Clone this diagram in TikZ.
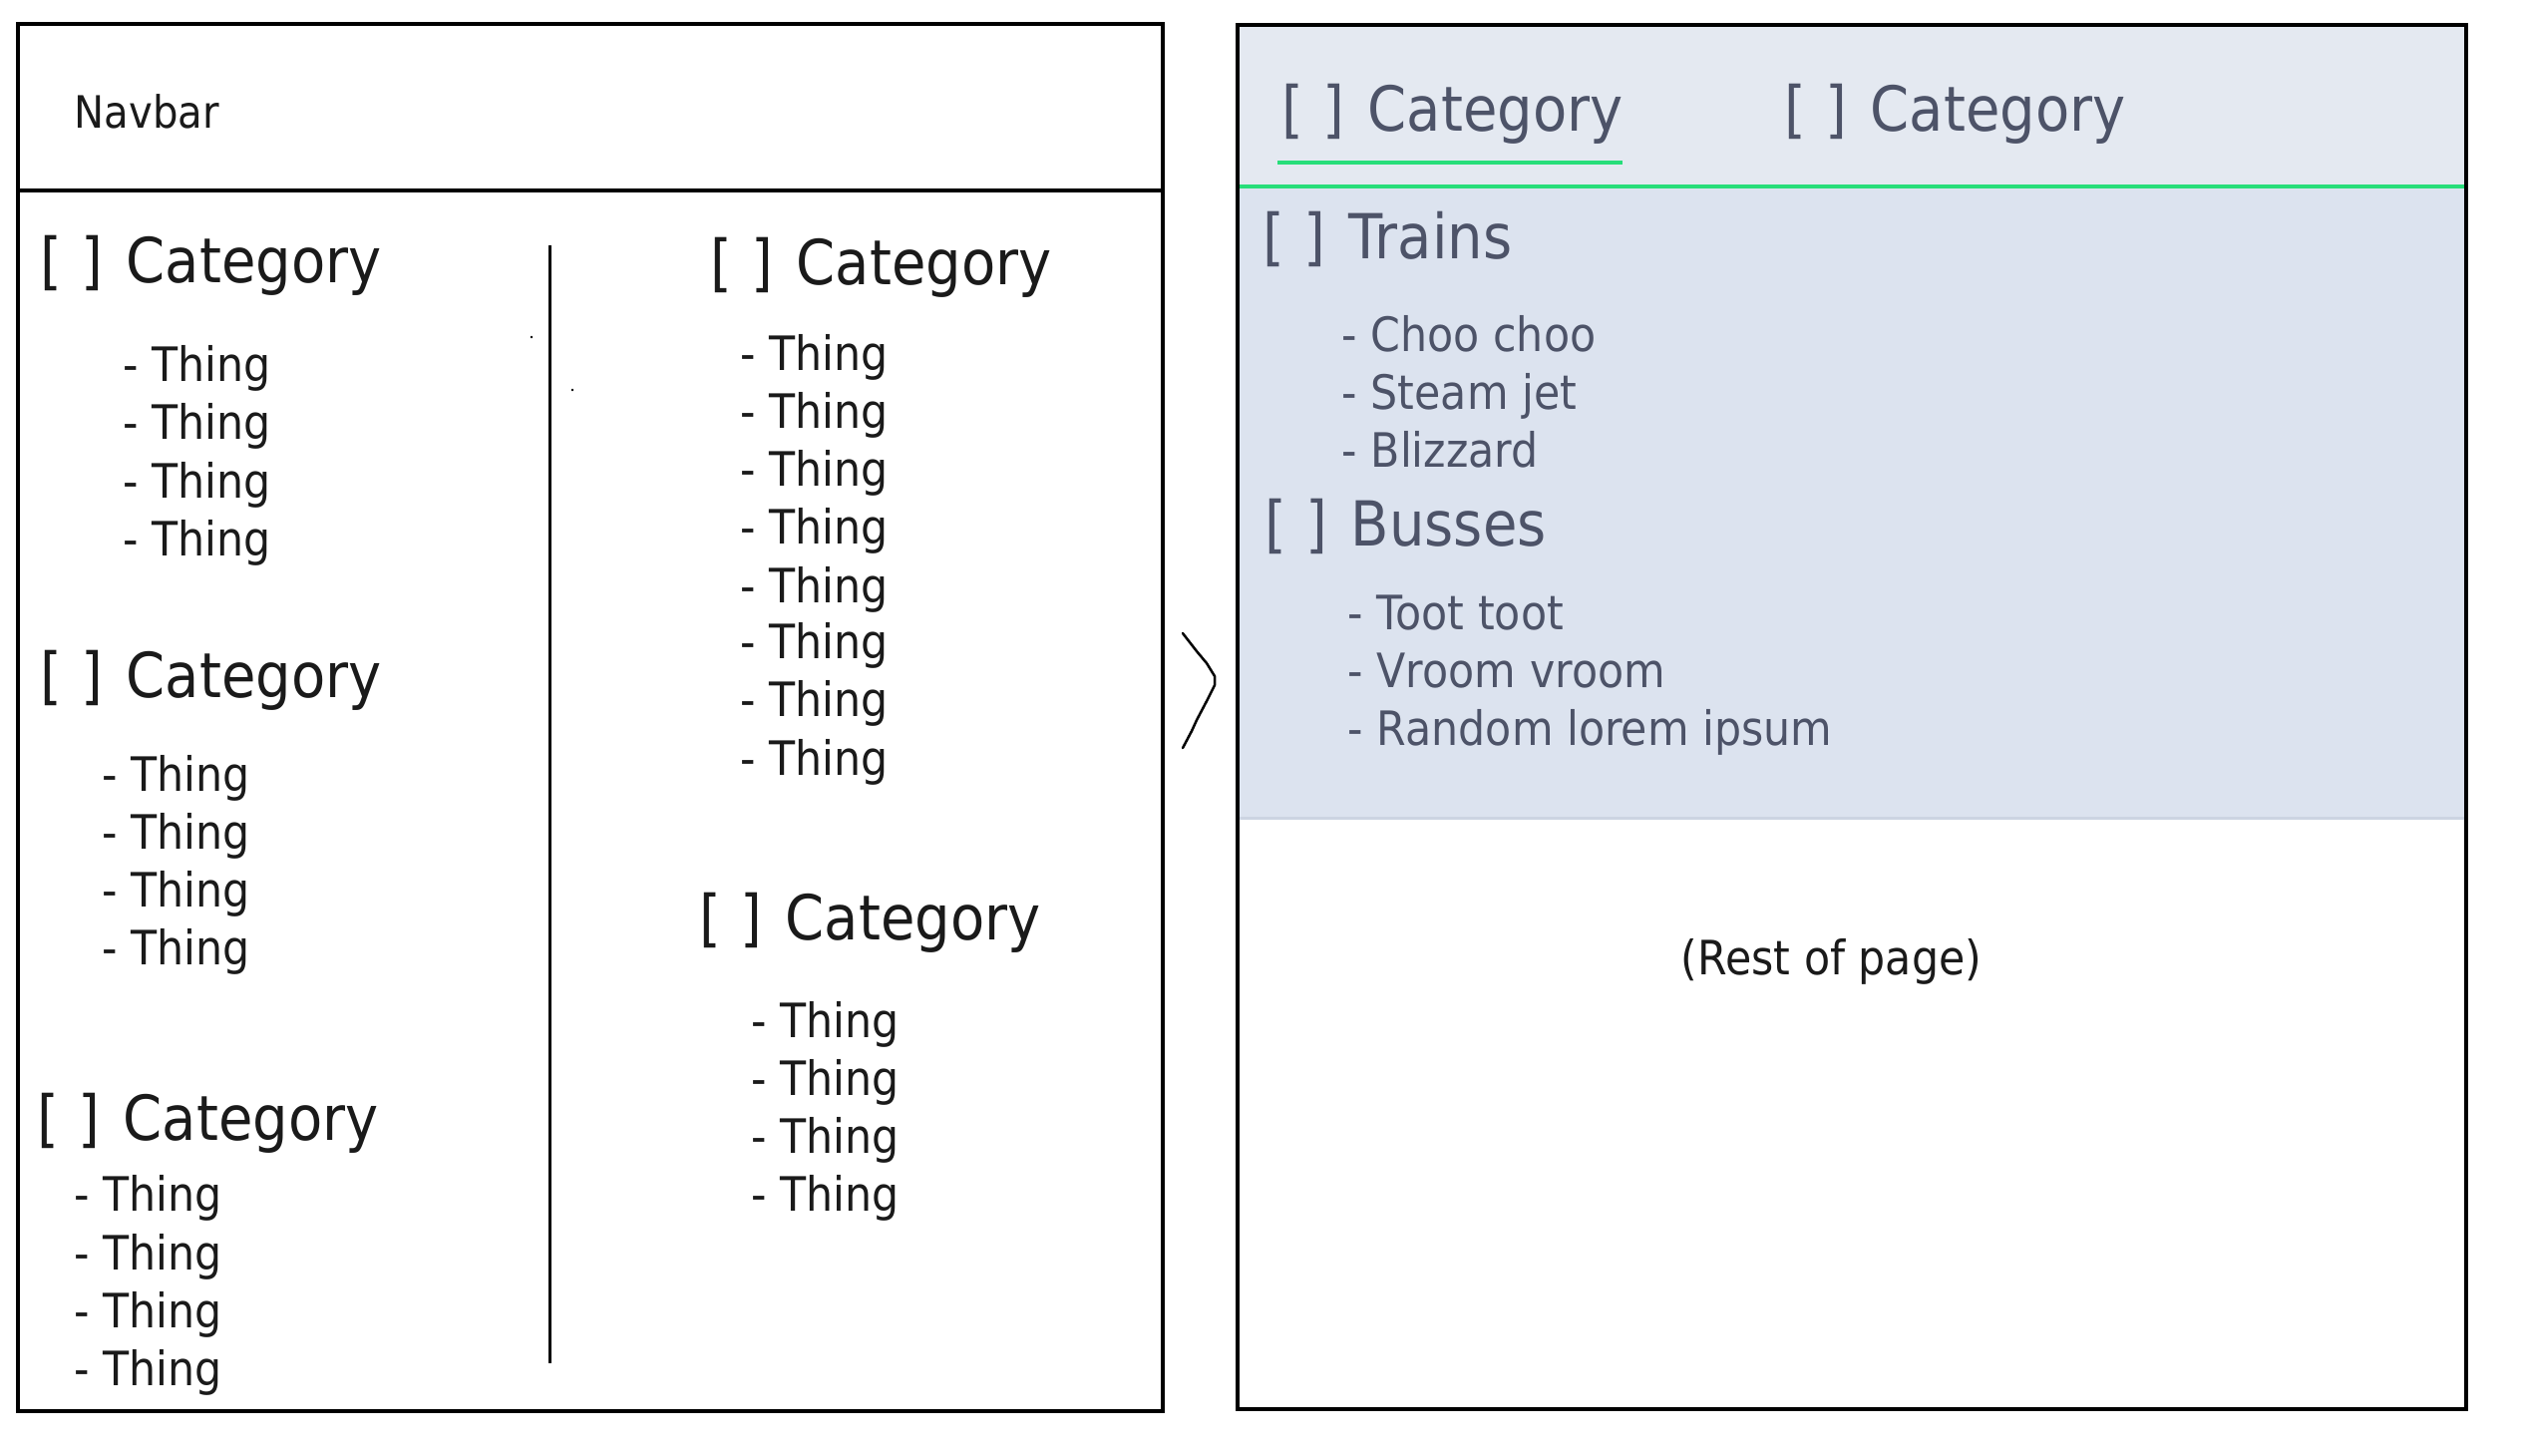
\documentclass[tikz,border=0pt]{standalone}
\usepackage{fontspec}
\setmainfont{DejaVu Sans}[FakeStretch=0.9]
\definecolor{ink}{HTML}{1A1A1A}
\definecolor{slate}{HTML}{4D5368}
\definecolor{topband}{HTML}{E4E9F1}
\definecolor{lowband}{HTML}{DCE3EF}
\definecolor{sepgrey}{HTML}{CCD4E2}
\definecolor{accent}{HTML}{27DE7A}
\newcommand{\cbox}{[\hspace{0.3em}]\hspace{0.38em}}
\begin{document}
\begin{tikzpicture}[x=0.01cm,y=-0.01cm,
  frame/.style={draw=black,line width=0.048cm},
  head/.style={anchor=base west,inner sep=0pt,font=\fontsize{17.7}{20}\selectfont,text=ink},
  item/.style={anchor=base west,inner sep=0pt,font=\fontsize{13.5}{16}\selectfont,text=ink},
  navtext/.style={anchor=base west,inner sep=0pt,font=\fontsize{12.7}{15}\selectfont,text=ink},
  shead/.style={head,text=slate},
  sitem/.style={item,text=slate}]
\useasboundingbox (0,0) rectangle (2534,1459);

% ---------- left mock-up ----------
\draw[frame] (18,24) rectangle (1166,1415);
\draw[frame] (18,191) -- (1166,191);
\node[navtext] (navbar) at (74,128) {Navbar};
\draw[line width=0.03cm] (551,246) -- (551,1367);
\fill (533,338) circle (1.3);
\fill (574,391) circle (1.3);

% column 1
\node[head] (c1) at (40,283) {\cbox Category};
\foreach \y [count=\i] in {382,440,499,557}
  \node[item] (c1t\i) at (123,\y) {- Thing};
\node[head] (c2) at (40,699) {\cbox Category};
\foreach \y [count=\i] in {793,851,909,967}
  \node[item] (c2t\i) at (102,\y) {- Thing};
\node[head] (c3) at (37,1143) {\cbox Category};
\foreach \y [count=\i] in {1214,1273,1331,1389}
  \node[item] (c3t\i) at (74,\y) {- Thing};

% column 2
\node[head] (c4) at (712,285) {\cbox Category};
\foreach \y [count=\i] in {371,429,487,545,604,660,718,777}
  \node[item] (c4t\i) at (742,\y) {- Thing};
\node[head] (c5) at (701,942) {\cbox Category};
\foreach \y [count=\i] in {1040,1098,1156,1214}
  \node[item] (c5t\i) at (753,\y) {- Thing};

% ---------- chevron ----------
\draw[line width=0.025cm,line join=round,line cap=round]
  (1186,635) -- (1200,653) -- (1210,665) -- (1218,678) -- (1218,687)
  -- (1210,703) -- (1200,722) -- (1195,733) -- (1186,750);

% ---------- right mock-up ----------
\fill[topband] (1241,24) rectangle (2473,187);
\fill[lowband] (1241,187) rectangle (2473,819);
\draw[sepgrey,line width=0.03cm] (1241,820) -- (2473,820);
\draw[accent,line width=0.04cm] (1241,187) -- (2473,187);
\node[shead] (tabA) at (1285,131) {\cbox Category};
\node[shead] (tabB) at (1789,131) {\cbox Category};
\draw[accent,line width=0.035cm] (1281,163) -- (1627,163);

\node[shead] (trains) at (1266,259) {\cbox Trains};
\node[sitem] (tr1) at (1345,352) {- Choo choo};
\node[sitem] (tr2) at (1345,410) {- Steam jet};
\node[sitem] (tr3) at (1345,468) {- Blizzard};
\node[shead] (busses) at (1268,547) {\cbox Busses};
\node[sitem] (bu1) at (1351,631) {- Toot toot};
\node[sitem] (bu2) at (1351,689) {- Vroom vroom};
\node[sitem] (bu3) at (1351,747) {- Random lorem ipsum};

\node[item] (rest) at (1685,977) {(Rest of page)};
\draw[frame] (1241,25) rectangle (2473,1413);
\end{tikzpicture}
\end{document}
